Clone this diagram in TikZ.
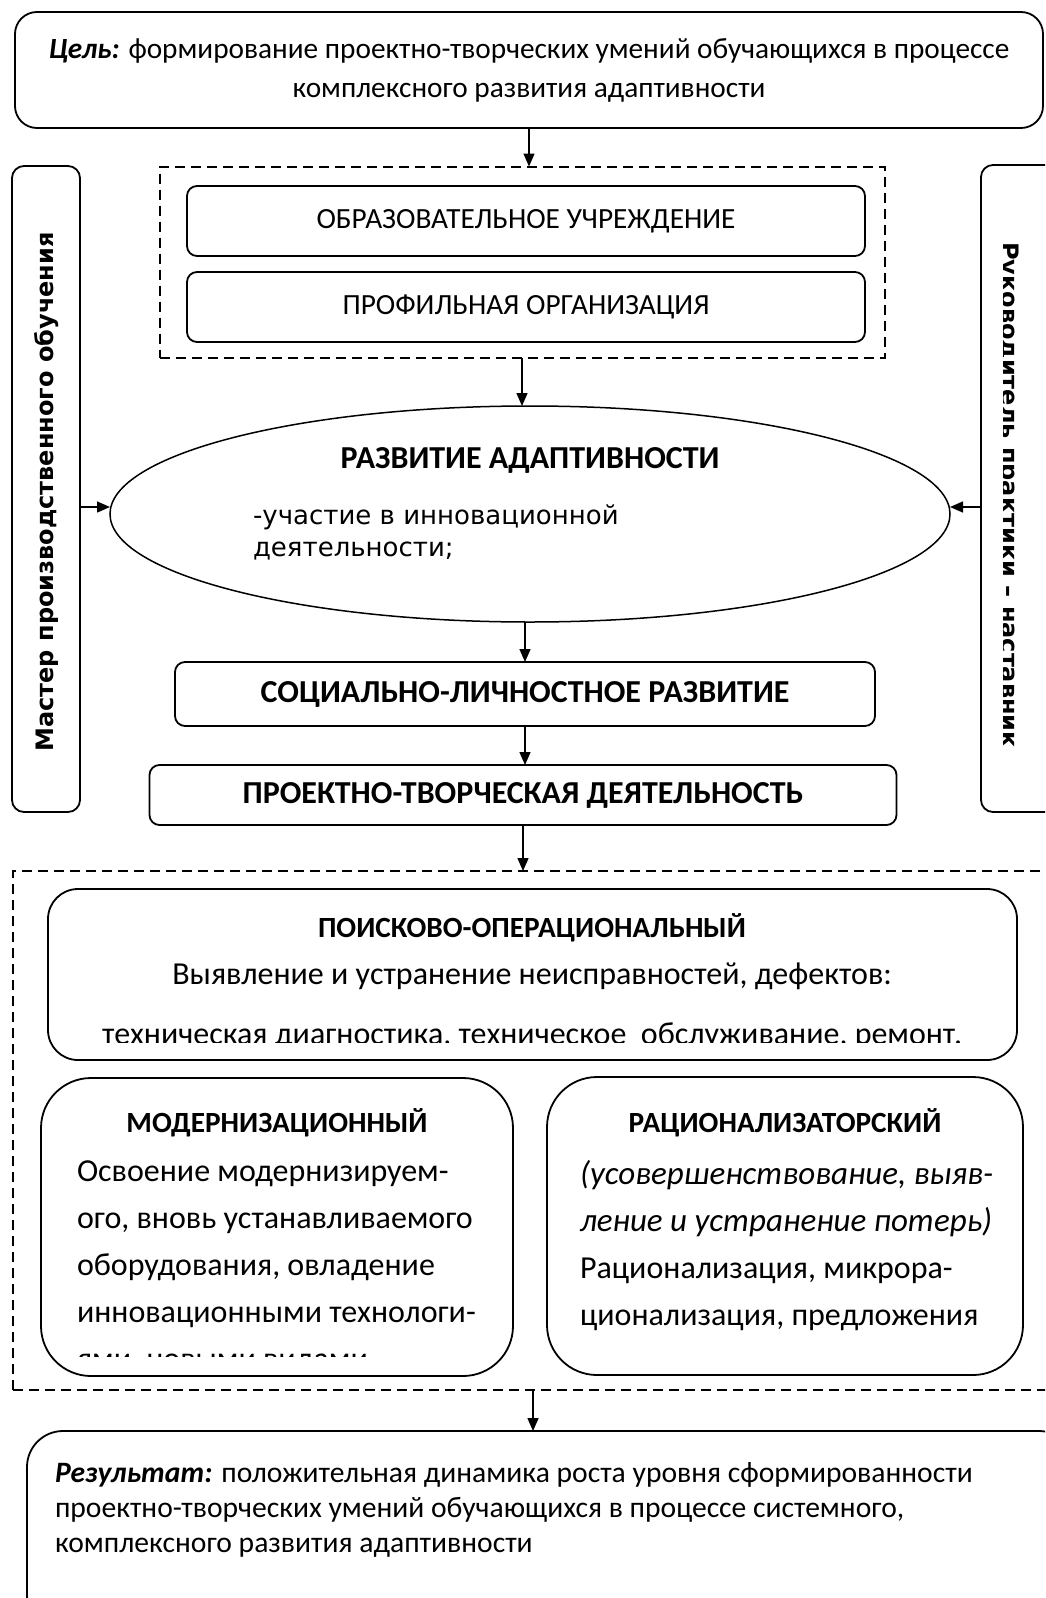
\documentclass[tikz,border=0pt]{standalone}
\usepackage{fontspec}
\setmainfont{Carlito}
\newfontfamily\verdfont{DejaVu Sans}
\usetikzlibrary{arrows.meta, positioning, shapes.geometric}
\newcommand{\calsz}{\fontsize{29.3}{39}\selectfont}
\newcommand{\bigsz}{\fontsize{32}{47}\selectfont}
\tikzset{
    box/.style={draw, line width=1.8pt, rounded corners=10pt, align=center, inner sep=0pt, outer sep=0pt, font=\calsz},
    framebox/.style={draw, line width=2pt, dash pattern=on 10pt off 6pt, inner sep=0pt, outer sep=0pt},
    sidebox/.style={box, rounded corners=12pt},
    oval/.style={ellipse, draw, line width=1.5pt, inner sep=0pt, outer sep=0pt},
    txt/.style={inner sep=0pt, outer sep=0pt, align=left, font=\calsz},
    arr/.style={-{Triangle[length=13pt, width=11pt]}, line width=1.5pt}
}
\begin{document}
\begin{tikzpicture}[x=1pt, y=-1pt]
    \useasboundingbox (0,0) rectangle (1045,1598);
    \clip (0,0) rectangle (1045,1598);

    \node[box, rounded corners=22pt, minimum width=1028pt, minimum height=116pt] (goal) at (529,70) {\textbf{\textit{Цель:}} формирование проектно-творческих умений обучающихся в процессе\\комплексного развития адаптивности};

    \node[framebox, minimum width=725pt, minimum height=191pt] (org) at (522,262) {};
    \node[box, minimum width=678pt, minimum height=70pt] (school) at (526,221) {ОБРАЗОВАТЕЛЬНОЕ УЧРЕЖДЕНИЕ};
    \node[box, minimum width=678pt, minimum height=70pt] (firm) at (526,307) {ПРОФИЛЬНАЯ ОРГАНИЗАЦИЯ};

    \node[oval, minimum width=840pt, minimum height=216pt] (adapt) at (530,514) {};
    \node[txt, font=\fontsize{32}{40}\selectfont\bfseries] (adapttitle) at (530,460) {РАЗВИТИЕ АДАПТИВНОСТИ};
    \node[txt, anchor=west, font=\verdfont\fontsize{26}{32}\selectfont] (adapttext) at (253,532) {-участие в инновационной\\деятельности;};

    \node[sidebox, minimum width=68pt, minimum height=646pt] (master) at (46,489) {};
    \node[txt, rotate=90, anchor=base, font=\verdfont\bfseries\fontsize{24}{28}\selectfont] (mastertext) at (53,492) {Мастер производственного обучения};

    \node[sidebox, minimum width=94pt, minimum height=647pt] (mentor) at (1028,488.5) {};
    \begin{scope}
        \clip (1003,165) rectangle (1045,812);
        \node[txt, rotate=-90, anchor=base, font=\verdfont\bfseries\fontsize{24}{28}\selectfont] (mentortext) at (1001,495) {Руководитель практики – наставник};
    \end{scope}

    \node[box, minimum width=700pt, minimum height=64pt, font=\fontsize{32}{40}\selectfont\bfseries] (social) at (525,694) {СОЦИАЛЬНО-ЛИЧНОСТНОЕ РАЗВИТИЕ};
    \node[box, minimum width=747pt, minimum height=60pt, font=\fontsize{32}{40}\selectfont\bfseries] (project) at (523,795) {ПРОЕКТНО-ТВОРЧЕСКАЯ ДЕЯТЕЛЬНОСТЬ};

    \node[framebox, minimum width=1062pt, minimum height=519pt] (kinds) at (544,1130.5) {};

    \node[box, rounded corners=30pt, minimum width=969pt, minimum height=171pt] (search) at (532.5,974.5) {};
    \node[txt, font=\calsz\bfseries] (searchtitle) at (532,928) {ПОИСКОВО-ОПЕРАЦИОНАЛЬНЫЙ};
    \node[txt, font=\bigsz] (searchtext) at (532,976) {Выявление и устранение неисправностей, дефектов:};
    \begin{scope}
        \clip (48,889) rectangle (1017,1042);
        \node[txt, anchor=base, font=\bigsz] (searchcut) at (532,1044) {техническая диагностика, техническое\ \ обслуживание, ремонт.};
    \end{scope}

    \node[box, rounded corners=50pt, minimum width=472pt, minimum height=298pt] (modern) at (277,1227) {};
    \node[txt, font=\calsz\bfseries] (moderntitle) at (277,1123) {МОДЕРНИЗАЦИОННЫЙ};
    \begin{scope}
        \clip (41,1078) rectangle (513,1356);
        \node[txt, anchor=north west, font=\bigsz] (moderntext) at (77,1161) {Освоение модернизируем-\\ого, вновь устанавливаемого\\оборудования, овладение\\инновационными технологи-\\ями, новыми видами};
    \end{scope}

    \node[box, rounded corners=50pt, minimum width=476pt, minimum height=298pt] (ratio) at (785,1226) {};
    \node[txt, font=\calsz\bfseries] (ratiotitle) at (785,1123) {РАЦИОНАЛИЗАТОРСКИЙ};
    \node[txt, anchor=north west, font=\fontsize{33}{47}\selectfont\itshape] (ratiogoal) at (580,1160) {(усовершенствование, выяв-\\ление и устранение потерь)};
    \node[txt, anchor=north west, font=\bigsz] (ratiotext) at (580,1258) {Рационализация, микрора-\\ционализация, предложения};

    \node[box, rounded corners=36pt, minimum width=1048pt, minimum height=200pt] (result) at (551,1531) {};
    \node[txt, anchor=north west, font=\fontsize{29.6}{35}\selectfont] (resulttext) at (55,1462) {\textbf{\textit{Результат:}} положительная динамика роста уровня сформированности\\проектно-творческих умений обучающихся в процессе системного,\\комплексного развития адаптивности};

    \draw[arr] (goal.south) -- (goal.south |- org.north);
    \draw[arr] (org.south) -- (org.south |- adapt.north);
    \draw[arr] (master.east |- adapt.west) ++(0,-7) -- ([yshift=7pt]adapt.west);
    \draw[arr] (mentor.west |- adapt.east) ++(0,-7) -- ([yshift=7pt]adapt.east);
    \draw[arr] (adapt.south -| social.north) -- (social.north);
    \draw[arr] (social.south) -- (social.south |- project.north);
    \draw[arr] (project.south) -- (project.south |- kinds.north);
    \draw[arr] ([xshift=-11pt]kinds.south) -- ([xshift=-11pt]kinds.south |- result.north);
\end{tikzpicture}
\end{document}
